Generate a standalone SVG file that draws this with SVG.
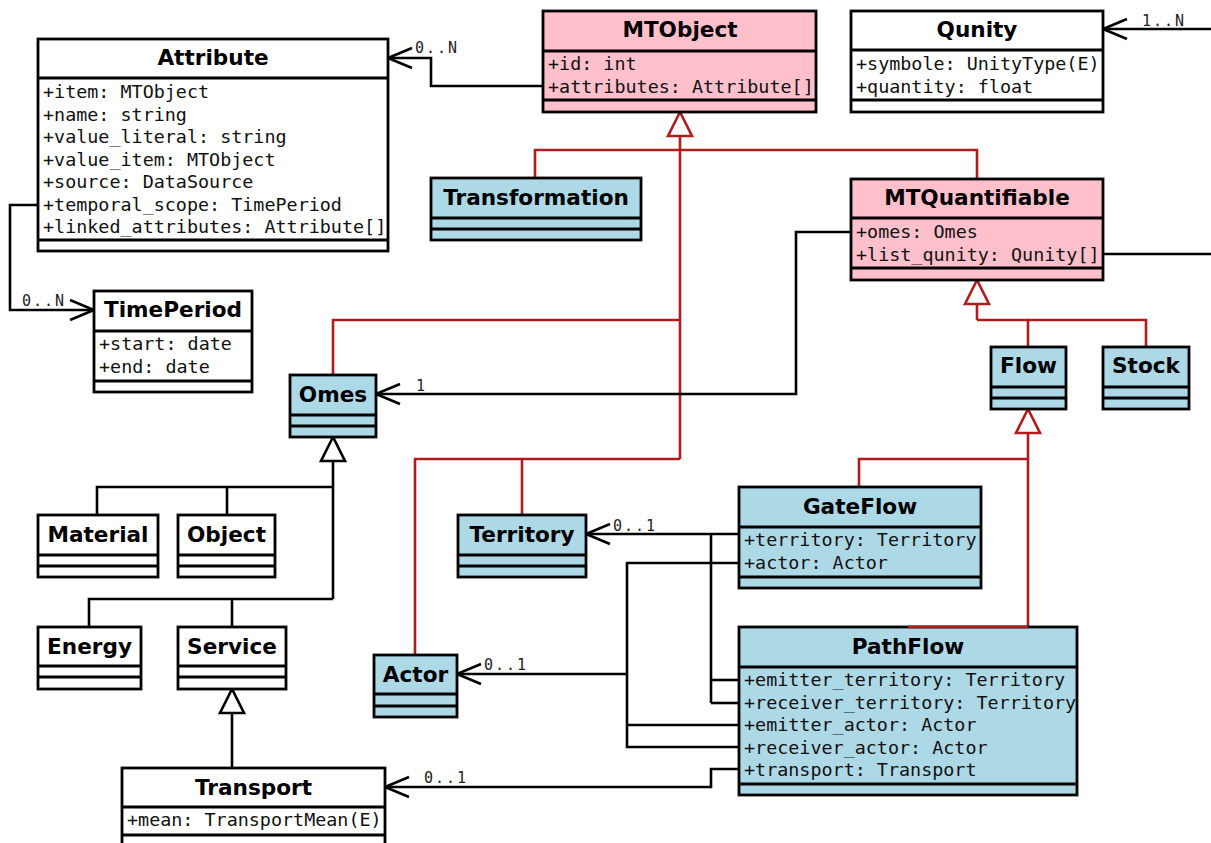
<svg xmlns="http://www.w3.org/2000/svg" width="1211" height="843" viewBox="0 0 1211 843">
<style>
.box{stroke:#000;stroke-width:2.8}
.w{fill:#fff}.p{fill:#ffc0cb}.b{fill:#add8e6}
.sep{stroke:#000;stroke-width:2.8}
.t{font-family:"DejaVu Sans",Verdana,sans-serif;font-weight:bold;font-size:21.6px;text-anchor:middle;fill:#000}
.a{font-family:"DejaVu Sans Mono","Liberation Mono",monospace;font-size:18.4px;fill:#111}
.lbl{font-family:"DejaVu Sans Mono","Liberation Mono",monospace;font-size:15px;letter-spacing:2px;fill:#222}
.c{fill:none;stroke:#000;stroke-width:2.6}
.r{fill:none;stroke:#b01c1c;stroke-width:2.6}
</style>
<defs>
<marker id="open" markerUnits="userSpaceOnUse" viewBox="-26 -13 28 26" markerWidth="28" markerHeight="26" refX="0" refY="0" orient="auto" overflow="visible">
<path d="M-24,-10 L0,0 L-24,10" fill="none" stroke="#000" stroke-width="2.6"/>
</marker>
<marker id="triK" markerUnits="userSpaceOnUse" viewBox="-26 -14 28 28" markerWidth="28" markerHeight="28" refX="0" refY="0" orient="auto" overflow="visible">
<path d="M0,0 L-24,-12 L-24,12 Z" fill="#fff" stroke="#000" stroke-width="2.6"/>
</marker>
<marker id="triR" markerUnits="userSpaceOnUse" viewBox="-26 -14 28 28" markerWidth="28" markerHeight="28" refX="0" refY="0" orient="auto" overflow="visible">
<path d="M0,0 L-24,-12 L-24,12 Z" fill="#fff" stroke="#b01c1c" stroke-width="2.6"/>
</marker>
</defs>
<rect width="1211" height="843" fill="#fff"/>

<g id="connectors">
<path class="r" d="M535,178 V150 H977 V179"/>
<path class="r" d="M333,375 V320 H680"/>
<path class="r" d="M415,655 V459 H680"/>
<path class="r" d="M522,515 V459"/>
<path class="r" d="M680,459 V112" marker-end="url(#triR)"/>
<path class="r" d="M1028,347 V320 H1146 V347"/>
<path class="r" d="M1028,320 H977"/>
<path class="r" d="M977,320 V280" marker-end="url(#triR)"/>
<path class="r" d="M859,487 V459 H1028"/>
<path class="r" d="M908,627 H1028"/>
<path class="r" d="M1028,627 V409" marker-end="url(#triR)"/>
<path class="c" d="M97,515 V487 H333"/>
<path class="c" d="M227,515 V487"/>
<path class="c" d="M89,627 V599 H333"/>
<path class="c" d="M232,627 V599"/>
<path class="c" d="M333,599 V437" marker-end="url(#triK)"/>
<path class="c" d="M232,768 V689" marker-end="url(#triK)"/>
<path class="c" d="M543,86 H431 V58 H388" marker-end="url(#open)"/>
<text class="lbl" x="415" y="53">0..N</text>
<path class="c" d="M38,205 H10 V310 H94" marker-end="url(#open)"/>
<text class="lbl" x="22" y="306">0..N</text>
<path class="c" d="M851,232 H796 V394 H376" marker-end="url(#open)"/>
<text class="lbl" x="416" y="391">1</text>
<path class="c" d="M1211,29 H1103" marker-end="url(#open)"/>
<text class="lbl" x="1142" y="26">1..N</text>
<path class="c" d="M1103,254 H1211"/>
<path class="c" d="M739,534 H586" marker-end="url(#open)"/>
<text class="lbl" x="613" y="531">0..1</text>
<path class="c" d="M711,534 V703"/>
<path class="c" d="M739,680 H711"/>
<path class="c" d="M739,703 H711"/>
<path class="c" d="M739,563 H627 V747 H739"/>
<path class="c" d="M739,725 H627"/>
<path class="c" d="M627,674 H457" marker-end="url(#open)"/>
<text class="lbl" x="484" y="670">0..1</text>
<path class="c" d="M739,769 H711 V787 H385" marker-end="url(#open)"/>
<text class="lbl" x="424" y="783">0..1</text>
</g>

<g id="Attribute">
<rect class="box w" x="38" y="39" width="350" height="212"/>
<line class="sep" x1="38" y1="78" x2="388" y2="78"/>
<line class="sep" x1="38" y1="240" x2="388" y2="240"/>
<text class="t" x="213" y="65">Attribute</text>
<text class="a" x="43" y="98">+item: MTObject</text>
<text class="a" x="43" y="120.5">+name: string</text>
<text class="a" x="43" y="143">+value_literal: string</text>
<text class="a" x="43" y="165.5">+value_item: MTObject</text>
<text class="a" x="43" y="188">+source: DataSource</text>
<text class="a" x="43" y="210.5">+temporal_scope: TimePeriod</text>
<text class="a" x="43" y="233">+linked_attributes: Attribute[]</text>
</g>

<g id="MTObject">
<rect class="box p" x="543" y="11" width="273" height="101"/>
<line class="sep" x1="543" y1="51" x2="816" y2="51"/>
<line class="sep" x1="543" y1="100" x2="816" y2="100"/>
<text class="t" x="680" y="37">MTObject</text>
<text class="a" x="548" y="70">+id: int</text>
<text class="a" x="548" y="92.5">+attributes: Attribute[]</text>
</g>

<g id="Qunity">
<rect class="box w" x="851" y="11" width="252" height="101"/>
<line class="sep" x1="851" y1="50" x2="1103" y2="50"/>
<line class="sep" x1="851" y1="100" x2="1103" y2="100"/>
<text class="t" x="977" y="37">Qunity</text>
<text class="a" x="856" y="70">+symbole: UnityType(E)</text>
<text class="a" x="856" y="92.5">+quantity: float</text>
</g>

<g id="Transformation">
<rect class="box b" x="431" y="178" width="210" height="62"/>
<line class="sep" x1="431" y1="218" x2="641" y2="218"/>
<line class="sep" x1="431" y1="229" x2="641" y2="229"/>
<text class="t" x="536" y="205">Transformation</text>
</g>

<g id="MTQuantifiable">
<rect class="box p" x="851" y="179" width="252" height="101"/>
<line class="sep" x1="851" y1="218" x2="1103" y2="218"/>
<line class="sep" x1="851" y1="268" x2="1103" y2="268"/>
<text class="t" x="977" y="205">MTQuantifiable</text>
<text class="a" x="856" y="238">+omes: Omes</text>
<text class="a" x="856" y="260.5">+list_qunity: Qunity[]</text>
</g>

<g id="TimePeriod">
<rect class="box w" x="94" y="291" width="158" height="101"/>
<line class="sep" x1="94" y1="331" x2="252" y2="331"/>
<line class="sep" x1="94" y1="381" x2="252" y2="381"/>
<text class="t" x="173" y="317">TimePeriod</text>
<text class="a" x="99" y="350">+start: date</text>
<text class="a" x="99" y="372.5">+end: date</text>
</g>

<g id="Flow">
<rect class="box b" x="991" y="347" width="75" height="62"/>
<line class="sep" x1="991" y1="387" x2="1066" y2="387"/>
<line class="sep" x1="991" y1="398" x2="1066" y2="398"/>
<text class="t" x="1028.5" y="373">Flow</text>
</g>

<g id="Stock">
<rect class="box b" x="1103" y="347" width="86" height="62"/>
<line class="sep" x1="1103" y1="387" x2="1189" y2="387"/>
<line class="sep" x1="1103" y1="398" x2="1189" y2="398"/>
<text class="t" x="1146" y="373">Stock</text>
</g>

<g id="Omes">
<rect class="box b" x="290" y="375" width="86" height="62"/>
<line class="sep" x1="290" y1="415" x2="376" y2="415"/>
<line class="sep" x1="290" y1="426" x2="376" y2="426"/>
<text class="t" x="333" y="401.5">Omes</text>
</g>

<g id="Material">
<rect class="box w" x="38" y="515" width="120" height="62"/>
<line class="sep" x1="38" y1="555" x2="158" y2="555"/>
<line class="sep" x1="38" y1="566" x2="158" y2="566"/>
<text class="t" x="98" y="541.5">Material</text>
</g>

<g id="Object">
<rect class="box w" x="178" y="515" width="97" height="62"/>
<line class="sep" x1="178" y1="555" x2="275" y2="555"/>
<line class="sep" x1="178" y1="566" x2="275" y2="566"/>
<text class="t" x="226.5" y="541.5">Object</text>
</g>

<g id="Territory">
<rect class="box b" x="458" y="515" width="128" height="62"/>
<line class="sep" x1="458" y1="555" x2="586" y2="555"/>
<line class="sep" x1="458" y1="566" x2="586" y2="566"/>
<text class="t" x="522" y="541.5">Territory</text>
</g>

<g id="GateFlow">
<rect class="box b" x="739" y="487" width="242" height="101"/>
<line class="sep" x1="739" y1="527" x2="981" y2="527"/>
<line class="sep" x1="739" y1="577" x2="981" y2="577"/>
<text class="t" x="860" y="513.5">GateFlow</text>
<text class="a" x="744" y="546">+territory: Territory</text>
<text class="a" x="744" y="568.5">+actor: Actor</text>
</g>

<g id="Energy">
<rect class="box w" x="38" y="627" width="103" height="62"/>
<line class="sep" x1="38" y1="666" x2="141" y2="666"/>
<line class="sep" x1="38" y1="677" x2="141" y2="677"/>
<text class="t" x="89.5" y="653.5">Energy</text>
</g>

<g id="Service">
<rect class="box w" x="178" y="627" width="108" height="62"/>
<line class="sep" x1="178" y1="666" x2="286" y2="666"/>
<line class="sep" x1="178" y1="677" x2="286" y2="677"/>
<text class="t" x="232" y="653.5">Service</text>
</g>

<g id="Actor">
<rect class="box b" x="374" y="655" width="83" height="62"/>
<line class="sep" x1="374" y1="694" x2="457" y2="694"/>
<line class="sep" x1="374" y1="706" x2="457" y2="706"/>
<text class="t" x="415.5" y="681.5">Actor</text>
</g>

<g id="PathFlow">
<rect class="box b" x="739" y="627" width="338" height="168"/>
<line class="sep" x1="739" y1="667" x2="1077" y2="667"/>
<line class="sep" x1="739" y1="784" x2="1077" y2="784"/>
<line class="r" x1="908" y1="627" x2="1028" y2="627"/>
<text class="t" x="908" y="653.5">PathFlow</text>
<text class="a" x="744" y="686">+emitter_territory: Territory</text>
<text class="a" x="744" y="708.5">+receiver_territory: Territory</text>
<text class="a" x="744" y="731">+emitter_actor: Actor</text>
<text class="a" x="744" y="753.5">+receiver_actor: Actor</text>
<text class="a" x="744" y="776">+transport: Transport</text>
</g>

<g id="Transport">
<rect class="box w" x="122" y="768" width="263" height="80"/>
<line class="sep" x1="122" y1="807" x2="385" y2="807"/>
<line class="sep" x1="122" y1="835" x2="385" y2="835"/>
<text class="t" x="253.5" y="794.5">Transport</text>
<text class="a" x="127" y="826">+mean: TransportMean(E)</text>
</g>
</svg>
